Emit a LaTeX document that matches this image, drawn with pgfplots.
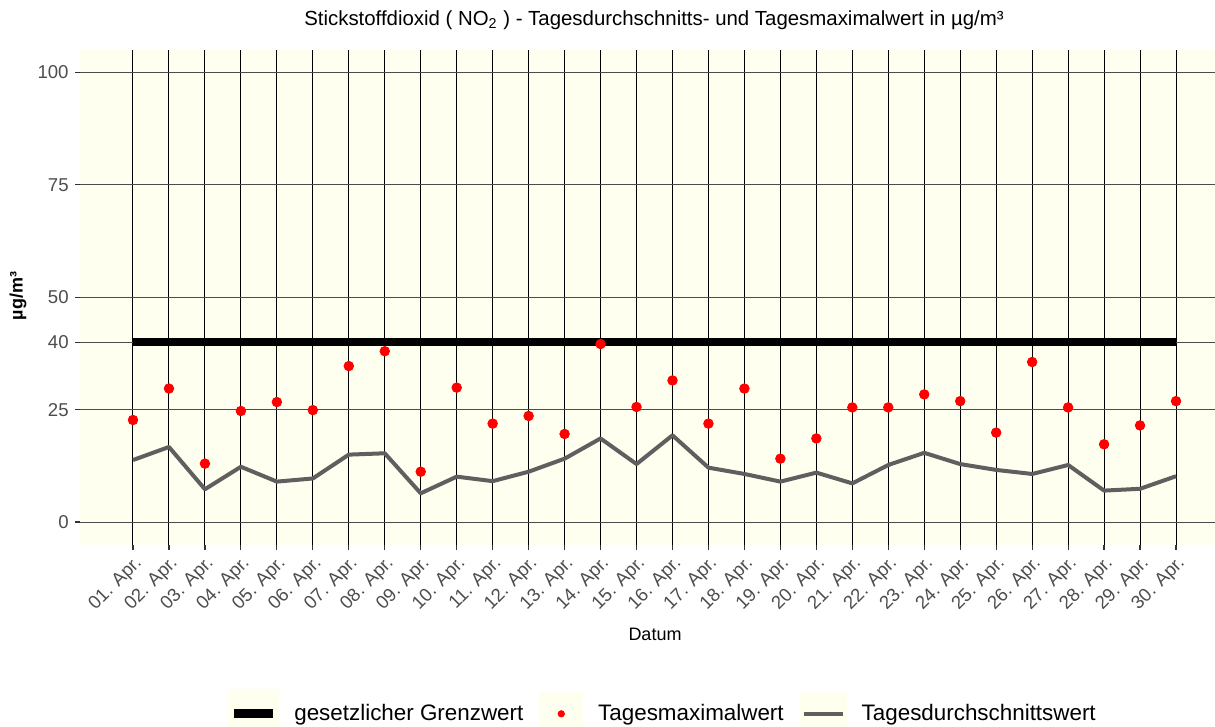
\documentclass[border=0pt]{standalone}
\usepackage{pgfplots}
\pgfplotsset{compat=1.18}
\usepackage{pgfplotstable}
\usepackage{fontspec}
\setmainfont{Liberation Sans}
\definecolor{panelbg}{HTML}{FFFFF0}
\definecolor{avgline}{HTML}{5F5F5F}
\definecolor{ticktext}{HTML}{4D4D4D}
\definecolor{tickcol}{HTML}{333333}
\pgfplotstableread{
day max avg
1 22.7 13.8
2 29.7 16.7
3 13.0 7.3
4 24.7 12.3
5 26.7 9.0
6 24.9 9.7
7 34.7 15.0
8 38.0 15.3
9 11.2 6.4
10 29.9 10.1
11 21.9 9.1
12 23.6 11.2
13 19.6 14.1
14 39.6 18.6
15 25.6 12.9
16 31.5 19.3
17 21.9 12.1
18 29.7 10.7
19 14.1 9.0
20 18.6 11.0
21 25.5 8.6
22 25.5 12.7
23 28.4 15.4
24 26.9 12.9
25 19.9 11.6
26 35.6 10.7
27 25.5 12.7
28 17.3 7.0
29 21.5 7.4
30 26.9 10.2
}\datatable
\pgfplotstableread{
day lim
1 40
30 40
}\limtable
\begin{document}
\begin{tikzpicture}
\begin{axis}[
  scale only axis,
  width=567.5bp, height=247.5bp,
  xmin=-0.4736, xmax=31.084,
  ymin=-5.1, ymax=105,
  axis background/.style={fill=panelbg},
  axis line style={draw=none},
  xtick={1,...,30},
  xticklabels={01. Apr.,02. Apr.,03. Apr.,04. Apr.,05. Apr.,06. Apr.,07. Apr.,08. Apr.,09. Apr.,10. Apr.,11. Apr.,12. Apr.,13. Apr.,14. Apr.,15. Apr.,16. Apr.,17. Apr.,18. Apr.,19. Apr.,20. Apr.,21. Apr.,22. Apr.,23. Apr.,24. Apr.,25. Apr.,26. Apr.,27. Apr.,28. Apr.,29. Apr.,30. Apr.},
  ytick={0,25,40,50,75,100},
  xtick pos=bottom, ytick pos=left,
  tick align=outside,
  major tick length=2.5bp,
  every tick/.style={draw=tickcol, line width=0.6bp},
  xmajorgrids, ymajorgrids,
  x grid style={black, line width=0.5bp},
  y grid style={black!70, line width=0.5bp},
  /pgf/number format/assume math mode=true,
  tick label style={font=\fontsize{9.3bp}{11bp}\selectfont, text=ticktext},
  x tick label style={rotate=45, anchor=north east, inner sep=1.5bp},
  y tick label style={inner xsep=3bp},
  legend columns=3,
  legend style={at={(rel axis cs:0.5128,-0.341)}, anchor=center, draw=none, fill=none,
    font=\fontsize{11.2bp}{13bp}\selectfont,
    nodes={inner sep=0pt, anchor=west},
    /tikz/every odd column/.style={column sep=7.5bp},
    /tikz/every even column/.style={column sep=8bp}},
  clip=false,
]
\addplot[black, line width=4bp, line cap=butt,
  legend image code/.code={\fill[panelbg] (0bp,-10.5bp) rectangle (21.5bp,10.5bp);
    \draw[black, line width=4.5bp] (1bp,0bp) -- (20.5bp,0bp);}]
  table[x=day, y=lim] {\limtable};
\addlegendentry{gesetzlicher Grenzwert}
\addplot[only marks, mark=*, mark size=2.4bp, draw=red, fill=red,
  legend image code/.code={\fill[panelbg] (0bp,-10.5bp) rectangle (21.5bp,10.5bp);
    \fill[red] (10.75bp,0bp) circle (1.6bp);}]
  table[x=day, y=max] {\datatable};
\addlegendentry{Tagesmaximalwert}
\addplot[avgline, line width=2bp, line join=round,
  legend image code/.code={\fill[panelbg] (0bp,-10.5bp) rectangle (21.5bp,10.5bp);
    \draw[avgline, line width=2.2bp] (1bp,0bp) -- (20.5bp,0bp);}]
  table[x=day, y=avg] {\datatable};
\addlegendentry{Tagesdurchschnittswert}
\end{axis}
\node[font=\fontsize{10.2bp}{12bp}\selectfont] at (287bp,262.5bp) {Stickstoffdioxid ( NO\textsubscript{2} ) - Tagesdurchschnitts- und Tagesmaximalwert in µg/m³};
\node[font=\fontsize{9bp}{11bp}\selectfont] at (287.5bp,-44.5bp) {Datum};
\node[font=\bfseries\fontsize{9bp}{11bp}\selectfont, rotate=90] at (-31bp,124.5bp) {µg/m³};
\pgfresetboundingbox
\path[use as bounding box] (-40bp,-91bp) rectangle (567.5bp,272.5bp);
\end{tikzpicture}
\end{document}
